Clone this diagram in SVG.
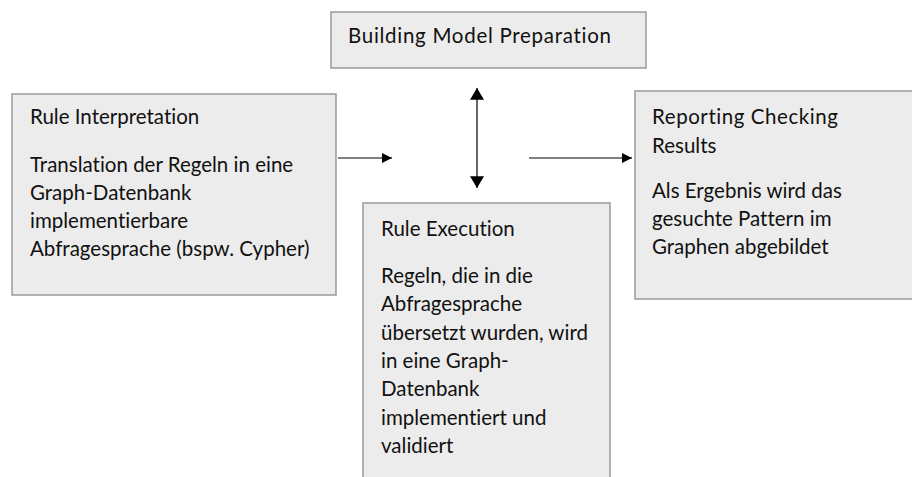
<svg xmlns="http://www.w3.org/2000/svg" width="912" height="477" viewBox="0 0 912 477">
  <defs>
    <style>
      .box { fill: #ececec; stroke: #9a9a9a; stroke-width: 1.5; }
      .t { font-family: "Lato", "Liberation Sans", Arial, sans-serif; font-size: 20.5px; fill: #111; font-variant-ligatures: none; }
      .edge { stroke: #000; stroke-width: 1.2; fill: none; }
    </style>
    <marker id="arrow" viewBox="0 0 10 10" refX="10" refY="5" markerWidth="10" markerHeight="10" markerUnits="userSpaceOnUse" orient="auto-start-reverse">
      <path d="M0,0 L10,5 L0,10 Z" fill="#000"/>
    </marker>
    <marker id="arrowV" viewBox="0 0 10 12" refX="10" refY="6" markerWidth="12" markerHeight="14" markerUnits="userSpaceOnUse" orient="auto-start-reverse">
      <path d="M0,0 L10,6 L0,12 Z" fill="#000"/>
    </marker>
  </defs>
  <rect width="912" height="477" fill="#fff"/>

  <g id="building-model-preparation">
    <rect class="box" x="331" y="12" width="315" height="56"/>
    <text class="t" x="348" y="43" textLength="263" lengthAdjust="spacing">Building Model Preparation</text>
  </g>

  <g id="rule-interpretation">
    <rect class="box" x="12" y="94" width="324" height="201"/>
    <text class="t" x="30" y="124">Rule Interpretation</text>
    <text class="t" x="30" y="172">Translation der Regeln in eine</text>
    <text class="t" x="30" y="200">Graph-Datenbank</text>
    <text class="t" x="30" y="228">implementierbare</text>
    <text class="t" x="30" y="256">Abfragesprache (bspw. Cypher)</text>
  </g>

  <g id="rule-execution">
    <rect class="box" x="363" y="203" width="247" height="290"/>
    <text class="t" x="381" y="236">Rule Execution</text>
    <text class="t" x="381" y="283">Regeln, die in die</text>
    <text class="t" x="381" y="311">Abfragesprache</text>
    <text class="t" x="381" y="340">übersetzt wurden, wird</text>
    <text class="t" x="381" y="368">in eine Graph-</text>
    <text class="t" x="381" y="396">Datenbank</text>
    <text class="t" x="381" y="425">implementiert und</text>
    <text class="t" x="381" y="453">validiert</text>
  </g>

  <g id="reporting-checking-results">
    <rect class="box" x="635" y="91" width="290" height="208"/>
    <text class="t" x="652" y="124" textLength="186" lengthAdjust="spacing">Reporting Checking</text>
    <text class="t" x="652" y="153">Results</text>
    <text class="t" x="652" y="198">Als Ergebnis wird das</text>
    <text class="t" x="652" y="226">gesuchte Pattern im</text>
    <text class="t" x="652" y="254">Graphen abgebildet</text>
  </g>

  <g id="connectors">
    <line class="edge" x1="338" y1="158" x2="392" y2="158" marker-end="url(#arrow)"/>
    <line class="edge" x1="529" y1="158" x2="632" y2="158" marker-end="url(#arrow)"/>
    <line class="edge" x1="477" y1="88" x2="477" y2="188" marker-start="url(#arrowV)" marker-end="url(#arrowV)"/>
  </g>
</svg>
